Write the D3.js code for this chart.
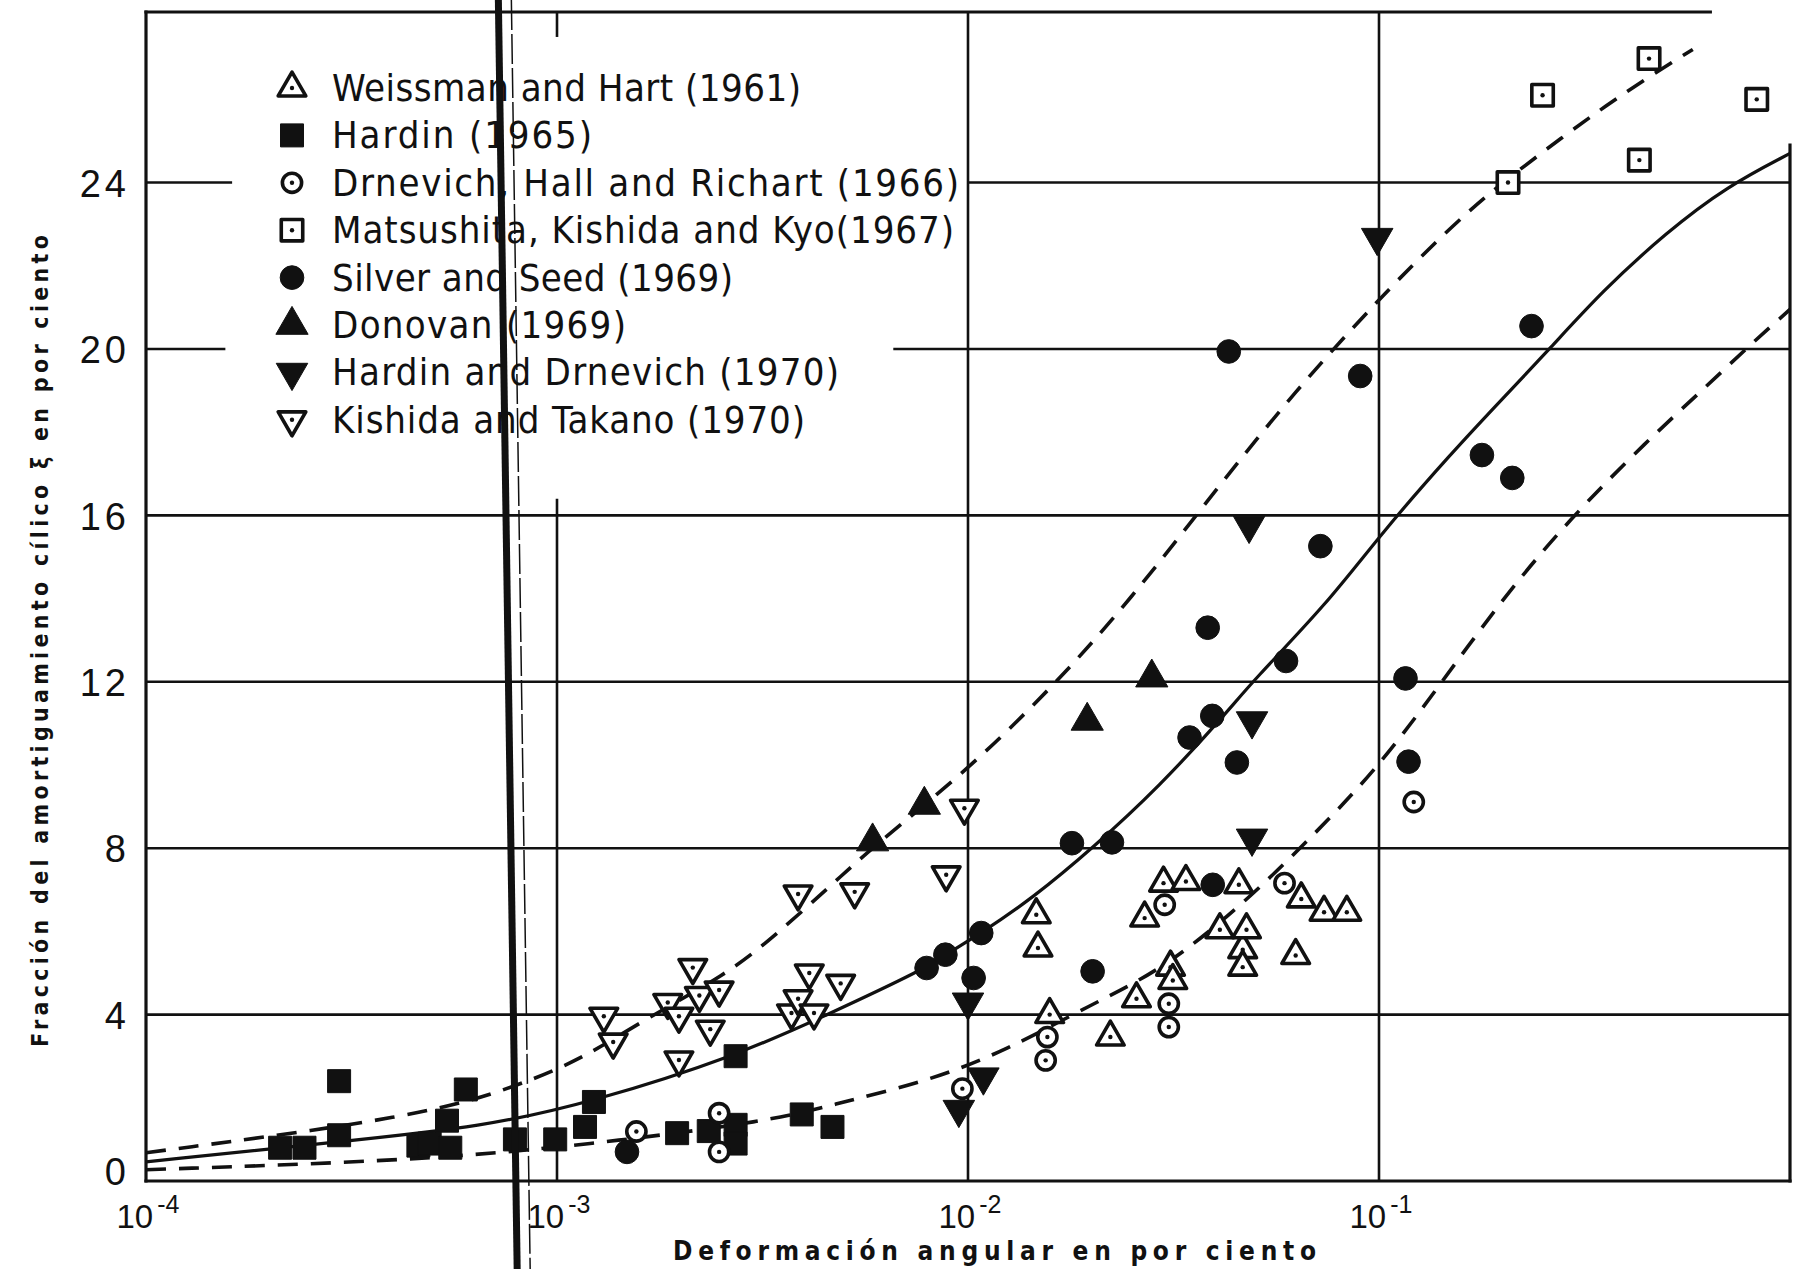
<!DOCTYPE html>
<html>
<head>
<meta charset="utf-8">
<script src="https://cdn.jsdelivr.net/npm/d3@7"></script>
<style>
  body { margin: 0; background: #fff; }
  svg { display: block; background: #fff; }
  text { font-family: "Liberation Sans Narrow", "DejaVu Sans Condensed", "Liberation Sans", sans-serif; fill: #111; }
</style>
</head>
<body>
<svg id="chart" width="1795" height="1269"></svg>
<script>
// ---- data (x = deformación angular %, y = amortiguamiento %) ----
var weissman = [[0.01466, 6.4], [0.0148, 5.6], [0.0158, 4.0], [0.0222, 3.46], [0.0257, 4.38], [0.0269, 6.32],
  [0.0299, 7.16], [0.0311, 5.14], [0.0315, 4.82], [0.0339, 7.2], [0.041, 6.04], [0.0456, 7.12], [0.0466, 5.56],
  [0.0466, 5.14], [0.0476, 6.04], [0.0627, 5.42], [0.0647, 6.78], [0.0735, 6.46], [0.0835, 6.46]];
var hardin65 = [[0.000212, 0.8], [0.000243, 0.8], [0.000295, 1.1], [0.000295, 2.4], [0.00046, 0.85], [0.00049, 0.9],
  [0.00054, 1.45], [0.00055, 0.8], [0.0006, 2.2], [0.00079, 1.0], [0.00099, 1.0], [0.00117, 1.3], [0.00123, 1.9],
  [0.00196, 1.15], [0.00234, 1.2], [0.00272, 3.0], [0.00272, 1.35], [0.00272, 0.9], [0.00394, 1.6], [0.00468, 1.3]];
var drnevich = [[0.00156, 1.19], [0.00248, 1.63], [0.00248, 0.7], [0.00969, 2.22], [0.01545, 2.9], [0.0156, 3.46],
  [0.0301, 6.64], [0.0308, 4.26], [0.0308, 3.7], [0.0589, 7.16], [0.1215, 9.11]];
var matsushita = [[0.206, 24.0], [0.25, 26.1], [0.43, 24.54], [0.454, 26.98], [0.83, 26.0]];
var silverSeed = [[0.00148, 0.7], [0.00793, 5.12], [0.00881, 5.44], [0.01032, 4.88], [0.01077, 5.96], [0.0179, 8.12],
  [0.0201, 5.04], [0.0224, 8.14], [0.0346, 10.66], [0.0383, 13.3], [0.0393, 11.18], [0.0394, 7.12], [0.0431, 19.94],
  [0.0451, 10.06], [0.0594, 12.5], [0.072, 15.26], [0.09, 19.35], [0.116, 12.08], [0.118, 10.08], [0.178, 17.45],
  [0.211, 16.9], [0.235, 20.55]];
var donovan = [[0.00586, 8.16], [0.00783, 9.04], [0.0195, 11.06], [0.028, 12.1]];
var hardinDrnevich = [[0.0095, 1.72], [0.01, 4.3], [0.0109, 2.5], [0.0483, 15.76], [0.0491, 11.06], [0.0491, 8.24],
  [0.099, 22.68]];
var kishida = [[0.0013, 3.96], [0.00137, 3.34], [0.00186, 4.29], [0.00198, 3.96], [0.00198, 2.91], [0.00214, 5.13],
  [0.00222, 4.46], [0.00236, 3.65], [0.00248, 4.59], [0.00372, 4.04], [0.00386, 6.9], [0.00386, 4.38], [0.00411, 5.0],
  [0.00422, 4.04], [0.0049, 4.75], [0.0053, 6.95], [0.00885, 7.36], [0.0098, 8.96]];

// fitted curves
var upperCurve = [[1e-4, 0.68], [0.00047, 1.55], [0.00081, 2.3], [0.00116, 2.95], [0.00161, 3.85], [0.00259, 4.97],
  [0.00334, 5.84], [0.00464, 7.1], [0.00588, 8.04], [0.01, 9.88], [0.0163, 11.94], [0.0247, 13.94], [0.04, 16.6],
  [0.0626, 19.0], [0.1, 21.2], [0.135, 22.5], [0.169, 23.4], [0.206, 24.1], [0.28, 25.1], [0.357, 25.85],
  [0.447, 26.5], [0.58, 27.2]];
var middleCurve = [[1e-4, 0.46], [0.0003, 0.95], [0.00066, 1.3], [0.00122, 1.9], [0.00272, 3.0], [0.00456, 4.0],
  [0.00793, 5.12], [0.00881, 5.44], [0.01077, 5.96], [0.01436, 6.8], [0.0201, 8.0], [0.0292, 9.48], [0.0423, 11.22],
  [0.0491, 12.0], [0.0751, 13.9], [0.1, 15.5], [0.15, 17.5], [0.204, 18.9], [0.26, 20.0], [0.35, 21.4],
  [0.5, 22.8], [0.7, 23.9], [1, 24.7]];
var lowerCurve = [[1e-4, 0.27], [0.00047, 0.5], [0.00118, 0.87], [0.00334, 1.44], [0.00497, 1.9], [0.0081, 2.42],
  [0.0124, 3.14], [0.0201, 4.26], [0.0295, 5.06], [0.0461, 6.6], [0.0675, 8.2], [0.0989, 9.9], [0.14, 11.9],
  [0.2, 14.0], [0.29, 15.9], [0.45, 17.8], [0.626, 19.1], [0.8, 20.1], [1.0, 20.95]];

var legendNames = ["Weissman and Hart (1961)", "Hardin (1965)", "Drnevich, Hall and Richart (1966)",
  "Matsushita, Kishida and Kyo(1967)", "Silver and Seed (1969)", "Donovan (1969)",
  "Hardin and Drnevich (1970)", "Kishida and Takano (1970)"];
var legendWidths = [469, 260, 627, 622, 401, 294, 507, 473];

var xTicks = [1e-4, 1e-3, 1e-2, 1e-1];
var xTickExp = ["-4", "-3", "-2", "-1"];
var yTicks = [0, 4, 8, 12, 16, 20, 24];

// ---- layout ----
var svg = d3.select("#chart");
var x = d3.scaleLog().domain([1e-4, 1]).range([146, 1790]);
var y = d3.scaleLinear().domain([0, 28.1]).range([1181, 12]);

var ink = "#111";
var g = svg.append("g");

// horizontal grid, with gaps around the legend
var hSegments = [
  [4, 1e-4, 1], [8, 1e-4, 1], [12, 1e-4, 1], [16, 1e-4, 1],
  [20, 1e-4, 0.000156], [20, 0.00658, 1],
  [24, 1e-4, 0.000162], [24, 0.01, 1]
];
g.selectAll(".hgrid").data(hSegments).enter().append("line")
  .attr("class", "hgrid")
  .attr("x1", function (d) { return x(d[1]); })
  .attr("x2", function (d) { return x(d[2]); })
  .attr("y1", function (d) { return y(d[0]); })
  .attr("y2", function (d) { return y(d[0]); })
  .attr("stroke", ink).attr("stroke-width", 2.6);

// vertical grid
var vSegments = [[1e-3, 0, 16.4], [1e-3, 27.5, 28.1], [1e-2, 0, 28.1], [1e-1, 0, 28.1]];
g.selectAll(".vgrid").data(vSegments).enter().append("line")
  .attr("class", "vgrid")
  .attr("x1", function (d) { return x(d[0]); })
  .attr("x2", function (d) { return x(d[0]); })
  .attr("y1", function (d) { return y(d[1]); })
  .attr("y2", function (d) { return y(d[2]); })
  .attr("stroke", ink).attr("stroke-width", 2.6);

// frame
var frame = [[1e-4, 0, 1e-4, 28.1], [1e-4, 0, 1, 0], [1e-4, 28.1, 0.64, 28.1], [1, 0, 1, 24.9]];
g.selectAll(".frame").data(frame).enter().append("line")
  .attr("x1", function (d) { return x(d[0]); })
  .attr("y1", function (d) { return y(d[1]); })
  .attr("x2", function (d) { return x(d[2]); })
  .attr("y2", function (d) { return y(d[3]); })
  .attr("stroke", ink).attr("stroke-width", 3.2).attr("stroke-linecap", "square");

// axes (labels only, the frame is drawn above)
var yAxis = g.append("g")
  .attr("transform", "translate(" + x(1e-4) + ",0)")
  .call(d3.axisLeft(y).tickValues(yTicks).tickSize(0).tickPadding(16).tickFormat(d3.format("d")));
yAxis.select(".domain").remove();
yAxis.selectAll("text")
  .style("font-family", "'Liberation Sans', 'DejaVu Sans', sans-serif")
  .style("font-size", "38px").style("letter-spacing", "4px").attr("fill", ink)
  .attr("dy", function (d) { return d === 0 ? "0.1em" : "0.36em"; });

var xAxis = g.append("g")
  .attr("transform", "translate(0," + y(0) + ")")
  .call(d3.axisBottom(x).tickValues(xTicks).tickSize(0).tickFormat(function () { return ""; }));
xAxis.select(".domain").remove();
xAxis.selectAll(".tick text").each(function (d, i) {
  var t = d3.select(this)
    .attr("text-anchor", "start").attr("x", -30).attr("y", 47).attr("dy", null)
    .style("font-family", "'Liberation Sans', 'DejaVu Sans', sans-serif")
    .attr("fill", ink);
  t.append("tspan").style("font-size", "33px").text("10");
  t.append("tspan").style("font-size", "25px").attr("dx", 4).attr("dy", -15).text(xTickExp[i]);
});

svg.append("text")
  .attr("x", 673).attr("y", 1260)
  .attr("textLength", 643).attr("lengthAdjust", "spacing")
  .style("font-size", "26px").style("font-weight", "bold")
  .text("Deformación  angular  en  por  ciento");

svg.append("text")
  .attr("transform", "translate(48,641) rotate(-90)")
  .attr("text-anchor", "middle")
  .attr("textLength", 812).attr("lengthAdjust", "spacing")
  .style("font-size", "23px").style("font-weight", "bold")
  .text("Fracción  del  amortiguamiento  cílico  ξ  en  por  ciento");

// ---- curves ----
var line = d3.line()
  .x(function (d) { return x(d[0]); })
  .y(function (d) { return y(d[1]); })
  .curve(d3.curveBasis);

g.append("path").datum(middleCurve).attr("d", line)
  .attr("fill", "none").attr("stroke", ink).attr("stroke-width", 3.2);
[upperCurve, lowerCurve].forEach(function (c) {
  g.append("path").datum(c).attr("d", line)
    .attr("fill", "none").attr("stroke", ink).attr("stroke-width", 3.6)
    .attr("stroke-dasharray", "20,13");
});

// ---- markers ----
var markerKinds = {
  weissman:  { type: d3.symbolTriangle, size: 330, open: true,  rot: 0 },
  hardin65:  { type: d3.symbolSquare,   size: 529, open: false, rot: 0 },
  drnevich:  { type: d3.symbolCircle,   size: 290, open: true,  rot: 0 },
  matsushita:{ type: d3.symbolSquare,   size: 460, open: true,  rot: 0 },
  silver:    { type: d3.symbolCircle,   size: 440, open: false, rot: 0 },
  donovan:   { type: d3.symbolTriangle, size: 450, open: false, rot: 0 },
  hdr:       { type: d3.symbolTriangle, size: 430, open: false, rot: 180 },
  kishida:   { type: d3.symbolTriangle, size: 330, open: true,  rot: 180 }
};
var legendKeys = ["weissman", "hardin65", "drnevich", "matsushita", "silver", "donovan", "hdr", "kishida"];
var seriesData = [weissman, hardin65, drnevich, matsushita, silverSeed, donovan, hardinDrnevich, kishida];

function drawMarker(sel, k) {
  var m = markerKinds[k];
  sel.append("path")
    .attr("d", d3.symbol().type(m.type).size(m.size))
    .attr("transform", m.rot ? "rotate(" + m.rot + ")" : null)
    .attr("fill", m.open ? "#fff" : ink)
    .attr("stroke", ink)
    .attr("stroke-width", m.open ? 3.6 : 1)
    .attr("stroke-linejoin", "round");
  if (m.open) sel.append("circle").attr("r", 2.2).attr("fill", ink);
}

seriesData.forEach(function (data, i) {
  var k = legendKeys[i];
  g.append("g").selectAll("g").data(data).enter().append("g")
    .attr("transform", function (d) { return "translate(" + x(d[0]) + "," + y(d[1]) + ")"; })
    .each(function () { drawMarker(d3.select(this), k); });
});

// ---- legend ----
var legend = svg.append("g").attr("transform", "translate(292,88)");
legendNames.forEach(function (name, i) {
  var row = legend.append("g").attr("transform", "translate(0," + (i * 47.4) + ")");
  drawMarker(row.append("g"), legendKeys[i]);
  row.append("text")
    .attr("x", 40).attr("y", 13)
    .attr("textLength", legendWidths[i]).attr("lengthAdjust", "spacing")
    .style("font-size", "38px")
    .text(name);
});

// scanner artefact: the dark double stripe crossing the page
var scanLine = [7.2e-4, 8.0e-4];
svg.append("line")
  .attr("x1", x(scanLine[0])).attr("y1", 0)
  .attr("x2", x(scanLine[1])).attr("y2", 1269)
  .attr("stroke", ink).attr("stroke-width", 7);
svg.append("line")
  .attr("x1", x(scanLine[0]) + 13).attr("y1", 0)
  .attr("x2", x(scanLine[1]) + 13).attr("y2", 1269)
  .attr("stroke", ink).attr("stroke-width", 1.5).attr("stroke-dasharray", "30,4");
</script>
</body>
</html>
